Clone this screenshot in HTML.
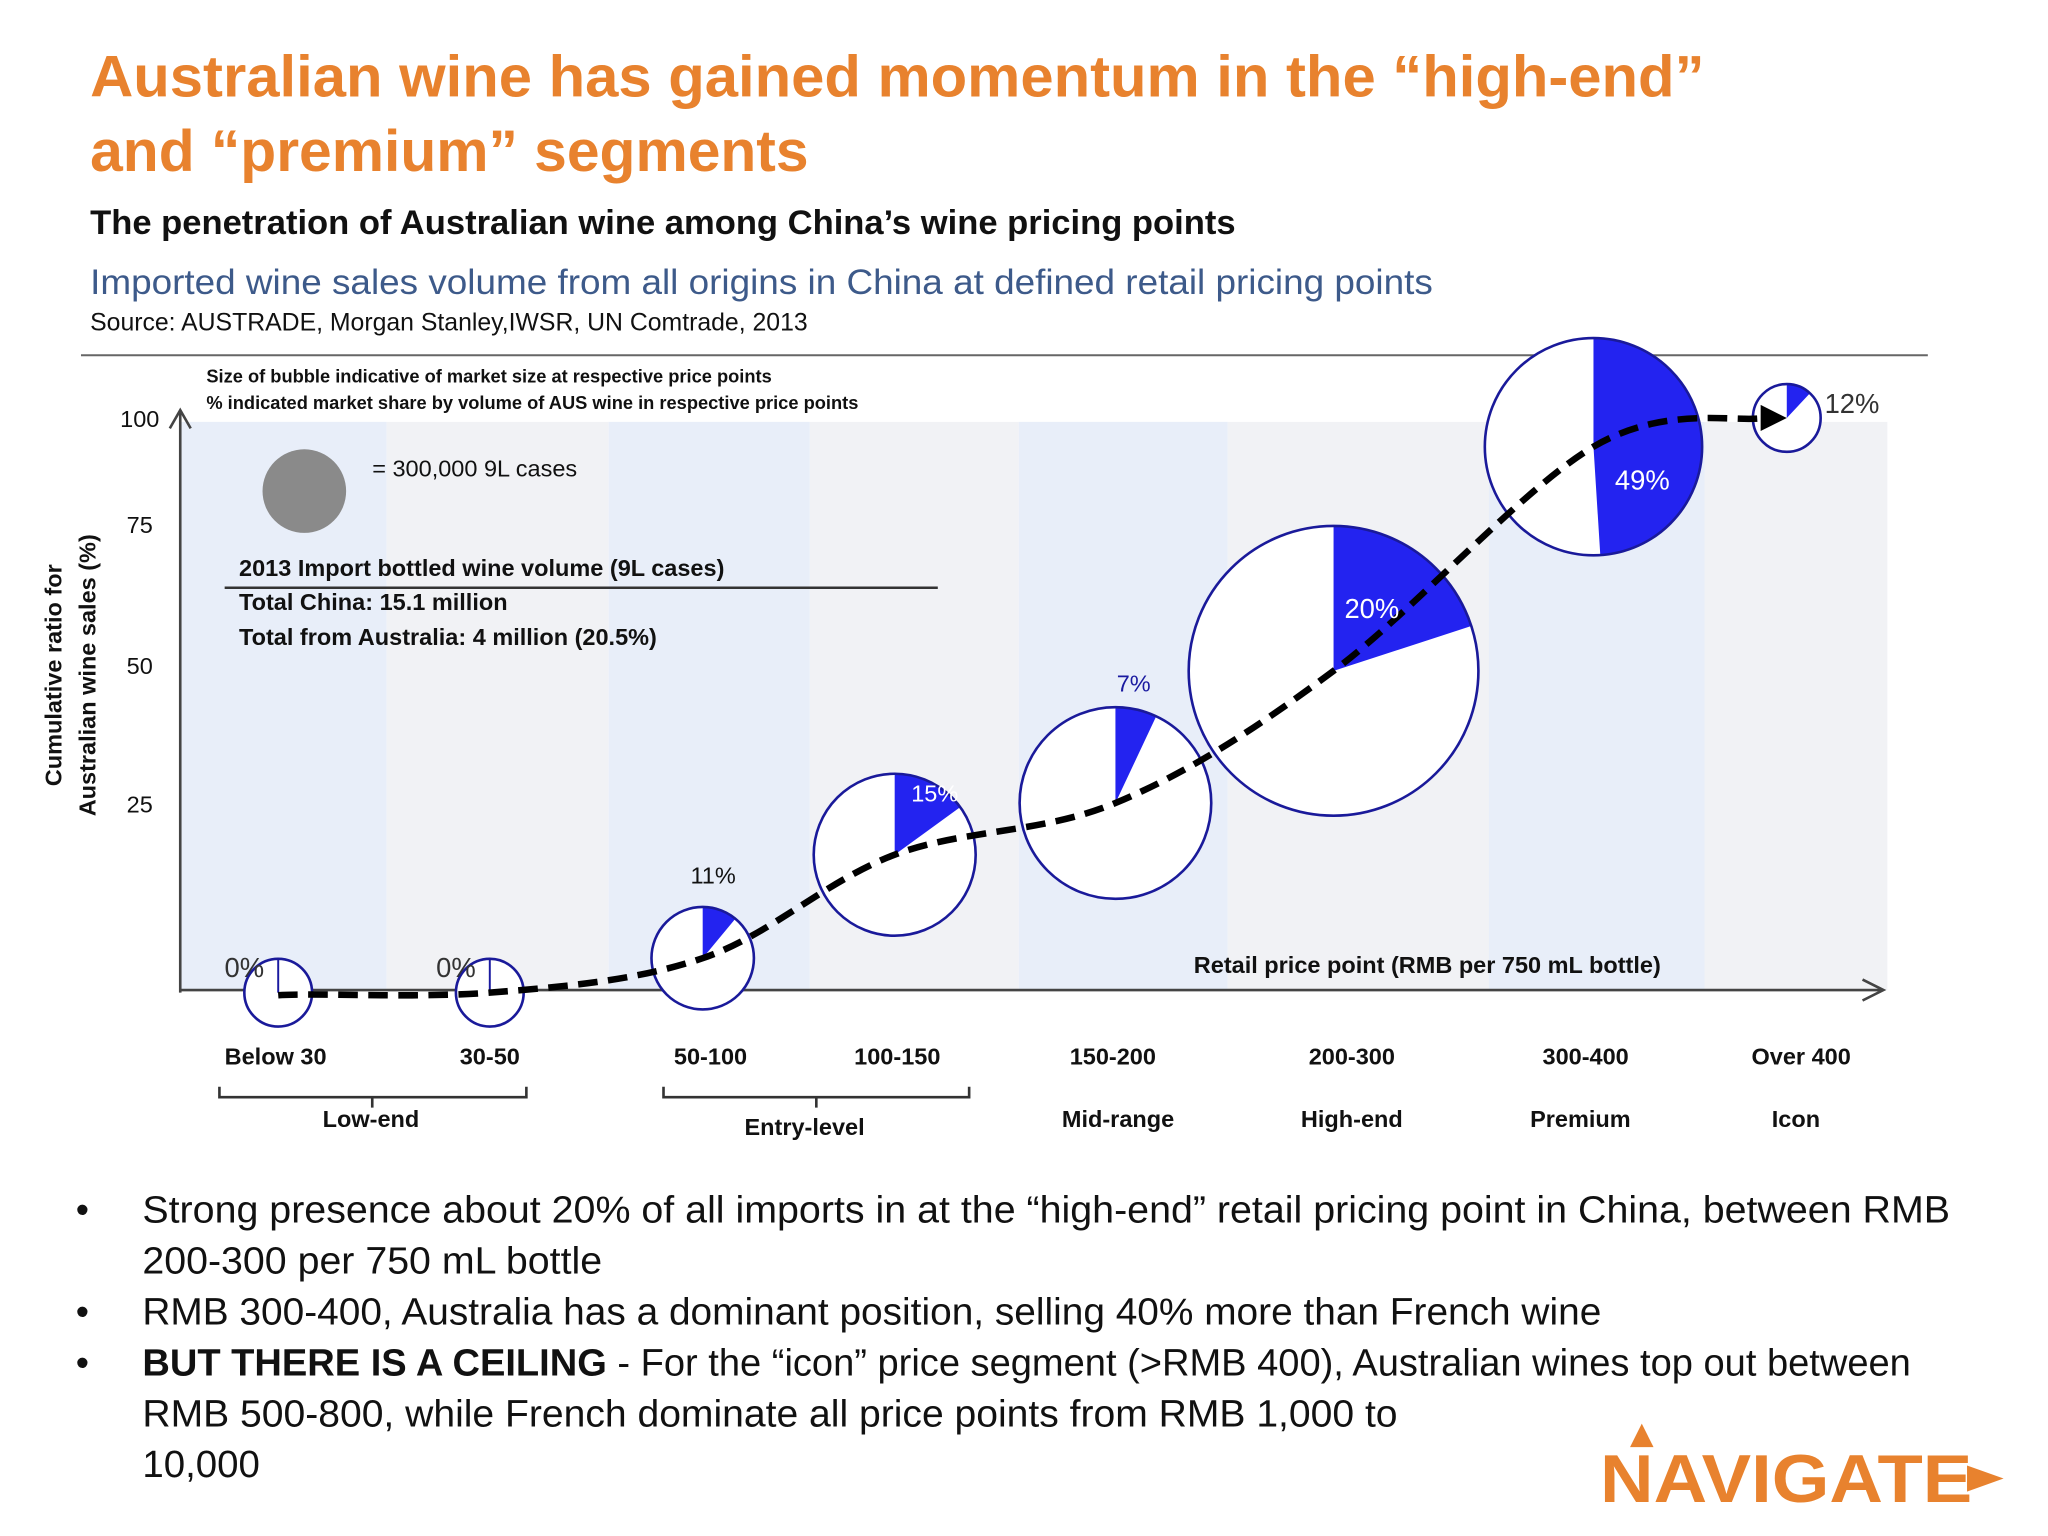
<!DOCTYPE html>
<html><head><meta charset="utf-8"><style>
html,body{margin:0;padding:0;background:#fff;width:2048px;height:1536px;overflow:hidden}
text{font-family:"Liberation Sans",sans-serif}
</style></head><body>
<svg id="chart" width="2048" height="1536" viewBox="0 0 1568 1176" xmlns="http://www.w3.org/2000/svg">
<rect width="1568" height="1176" fill="#fff"/>
<g fill="#E8822E" font-weight="bold" font-size="45">
<text x="69" y="74" textLength="1236" lengthAdjust="spacingAndGlyphs">Australian wine has gained momentum in the “high-end”</text>
<text x="69" y="131">and “premium” segments</text>
</g>
<text x="69" y="179" font-size="26" font-weight="bold" fill="#111" textLength="877" lengthAdjust="spacingAndGlyphs">The penetration of Australian wine among China’s wine pricing points</text>
<text x="69" y="225" font-size="27" fill="#3D5A8A" textLength="1028" lengthAdjust="spacingAndGlyphs">Imported wine sales volume from all origins in China at defined retail pricing points</text>
<text x="69" y="253" font-size="19" fill="#111">Source: AUSTRADE, Morgan Stanley,IWSR, UN Comtrade, 2013</text>
<line x1="62" y1="272" x2="1476" y2="272" stroke="#666" stroke-width="1.5"/>
<g id="bands"></g>
<g font-size="14" font-weight="bold" fill="#111">
<text x="158" y="293">Size of bubble indicative of market size at respective price points</text>
<text x="158" y="313">% indicated market share by volume of AUS wine in respective price points</text>
</g>
<circle cx="233" cy="376" r="32" fill="#8a8a8a"/>
<text x="285" y="365" font-size="18" fill="#111">= 300,000 9L cases</text>
<g font-size="18" font-weight="bold" fill="#111">
<text x="183" y="441">2013 Import bottled wine volume (9L cases)</text>
<line x1="172" y1="450" x2="718" y2="450" stroke="#333" stroke-width="2"/>
<text x="183" y="467">Total China: 15.1 million</text>
<text x="183" y="494">Total from Australia: 4 million (20.5%)</text>
</g>
<g stroke="#444" stroke-width="2" fill="none">
<line x1="138" y1="760" x2="138" y2="316"/><polyline points="130,328 138,314 146,328"/>
</g>
<g stroke="#444" stroke-width="2" fill="none">
<line x1="138" y1="758" x2="1440" y2="758"/><polyline points="1426,750 1442,758 1426,766"/>
</g>
<g font-size="18" fill="#111" text-anchor="end">
<text x="122" y="327">100</text><text x="117" y="408">75</text><text x="117" y="516">50</text><text x="117" y="622">25</text>
</g>
<g font-size="18" font-weight="bold" fill="#111" text-anchor="middle">
<text transform="translate(47,517) rotate(-90)">Cumulative ratio for</text>
<text transform="translate(73,517) rotate(-90)">Australian wine sales (%)</text>
</g>
<text x="914" y="745" font-size="18" font-weight="bold" fill="#111">Retail price point (RMB per 750 mL bottle)</text>
<g id="pies"></g>
<path id="curve" fill="none" stroke="#000" stroke-width="5" stroke-dasharray="15 8"/>
<polygon id="arrowhead" fill="#000"/>
<g id="labels"></g>
<g stroke="#333" stroke-width="2" fill="none">
<path d="M168,832 V840 H403 V832 M285,840 V848"/>
<path d="M508,832 V840 H742 V832 M625,840 V848"/>
</g>
<g font-size="29" fill="#111">
<text x="58" y="936">•</text><text x="109" y="936" textLength="1384" lengthAdjust="spacingAndGlyphs">Strong presence about 20% of all imports in at the “high-end” retail pricing point in China, between RMB</text>
<text x="109" y="975" textLength="352" lengthAdjust="spacingAndGlyphs">200-300 per 750 mL bottle</text>
<text x="58" y="1014">•</text><text x="109" y="1014" textLength="1117" lengthAdjust="spacingAndGlyphs">RMB 300-400, Australia has a dominant position, selling 40% more than French wine</text>
<text x="58" y="1053">•</text><text x="109" y="1053" textLength="1354" lengthAdjust="spacingAndGlyphs"><tspan font-weight="bold">BUT THERE IS A CEILING</tspan> - For the “icon” price segment (&gt;RMB 400), Australian wines top out between</text>
<text x="109" y="1092" textLength="961" lengthAdjust="spacingAndGlyphs">RMB 500-800, while French dominate all price points from RMB 1,000 to</text>
<text x="109" y="1131" textLength="90" lengthAdjust="spacingAndGlyphs">10,000</text>
</g>
<g fill="#E8822E">
<text x="1225" y="1150" font-size="52" font-weight="bold" textLength="285" lengthAdjust="spacingAndGlyphs">NAVIGATE</text>
<polygon points="1248,1108 1257,1090 1266,1108"/>
<polygon points="1506,1122 1534,1132 1506,1142"/>
</g>
</svg>
<script>
const categories=["Below 30","30-50","50-100","100-150","150-200","200-300","300-400","Over 400"];
const segments=["Low-end","Entry-level","Mid-range","High-end","Premium","Icon"];
const ausShare=[0,0,11,15,7,20,49,12];
const marketSize=[0.7,0.7,1.6,4.0,5.6,12.8,7.2,0.7];
const cumulative=[0,0,6,24,33,56,95,100];
const NS="http://www.w3.org/2000/svg";
const xPos=[213,375,538,685,854,1021,1220,1368];
const labelX=[211,375,544,687,852,1035,1214,1379];
const segX=[284,616,856,1035,1210,1375];
function y(v){return 760-v*4.4;}
function r(s){return 31*Math.sqrt(s);}
function mk(tag,attrs,parent){const e=document.createElementNS(NS,tag);for(const k in attrs)e.setAttribute(k,attrs[k]);(parent||document.getElementById('chart')).appendChild(e);return e;}
const bands=document.getElementById('bands');
const bandEdges=[138,296,466,620,780,940,1140,1305,1445];
for(let i=0;i<bandEdges.length-1;i++){
 const b=mk('rect',{x:bandEdges[i],y:323,width:bandEdges[i+1]-bandEdges[i],height:435,fill:i%2?'#f1f2f5':'#e8eef9'},bands);
 
 
}
const pies=document.getElementById('pies');
const labels=document.getElementById('labels');
const pts=[];
categories.forEach((c,i)=>{
 const cx=xPos[i],cy=y(cumulative[i]),R=r(marketSize[i]);
 pts.push([cx,cy]);
 const g=mk('g',{},pies);
 
 
 mk('circle',{cx:cx,cy:cy,r:R,fill:'#fff'},g);
 const p=ausShare[i]/100;
 if(p>0){const a=p*2*Math.PI;const ex=cx+R*Math.sin(a),ey=cy-R*Math.cos(a);
  const w=mk('path',{d:`M${cx},${cy} L${cx},${cy-R} A${R},${R} 0 ${p>0.5?1:0} 1 ${ex},${ey} Z`,fill:'#2323F0'},g);
  
  }
 else mk('line',{x1:cx,y1:cy,x2:cx,y2:cy-R,stroke:'#1a1aa0','stroke-width':1.5},g);
 mk('circle',{cx:cx,cy:cy,r:R,fill:'none',stroke:'#1a1a9a','stroke-width':2},g);
 let lx,ly,col;
 if(R<35){lx=cx+R+3;ly=cy-R+22;col='#333';if(i<2){lx=cx-R;ly=cy-R+14;}}
 else if(ausShare[i]>=15){const a=p*Math.PI;lx=cx+R*0.45*Math.sin(a)+(i===3?18:0);ly=cy-R*0.45*Math.cos(a)+(i===6?34:0)-(i===3?16:0);col='#fff';}
 else {lx=cx+(i===4?14:8);ly=cy-R-(i===2?18:12);col=i===4?'#1a1aa0':'#111';}
 const t=mk('text',{x:lx,y:ly,'font-size':i>=5||R<35?21:18,fill:col,'text-anchor':(R<35&&i>=2)?'start':'middle'},labels);
 t.textContent=ausShare[i]+'%';
 
 
 const cl=mk('text',{x:labelX[i],y:815,'font-size':18,'font-weight':'bold',fill:'#111','text-anchor':'middle'},labels);
 cl.textContent=c;
 
 
});
segments.forEach((s,i)=>{
 const t=mk('text',{x:segX[i],y:i===1?869:863,'font-size':18,'font-weight':'bold',fill:'#111','text-anchor':'middle'},labels);
 t.textContent=s;
 
 
});
const P=pts.map(p=>p.slice());P[P.length-1][0]-=18;
let d=`M${P[0][0]},${P[0][1]+2}`;
for(let i=0;i<P.length-1;i++){const p0=P[i-1]||P[i],p1=P[i],p2=P[i+1],p3=P[i+2]||p2;
 d+=` C${p1[0]+(p2[0]-p0[0])/6},${p1[1]+(p2[1]-p0[1])/6} ${p2[0]-(p3[0]-p1[0])/6},${p2[1]-(p3[1]-p1[1])/6} ${p2[0]},${p2[1]}`;}
document.getElementById('curve').setAttribute('d',d);
const e=pts[pts.length-1];
document.getElementById('arrowhead').setAttribute('points',`${e[0]-20},${e[1]-10} ${e[0]},${e[1]} ${e[0]-20},${e[1]+10}`);
</script>
</body></html>
